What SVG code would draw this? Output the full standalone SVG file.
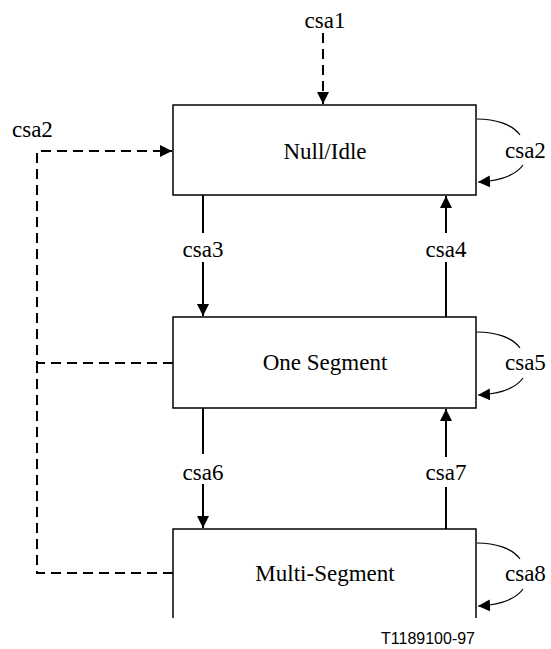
<svg xmlns="http://www.w3.org/2000/svg" width="551" height="649" viewBox="0 0 551 649">
<style>
.box{fill:#fff;stroke:#000;stroke-width:1.5}
.t{font-family:"Liberation Serif","Times New Roman",serif;font-size:23px;fill:#000;text-anchor:middle}
.l{font-family:"Liberation Serif","Times New Roman",serif;font-size:23px;fill:#000}
.solid{stroke:#000;stroke-width:2;fill:none}
.dash{stroke:#000;stroke-width:2;fill:none;stroke-dasharray:10 6}
.loop{stroke:#000;stroke-width:1.2;fill:none}
.fig{font-family:"Liberation Sans",Arial,sans-serif;font-size:16px;fill:#000;text-anchor:end}
</style>
<defs>
<marker id="ah" markerUnits="userSpaceOnUse" markerWidth="14" markerHeight="12" refX="12" refY="6" orient="auto">
<path d="M0,0 L12,6 L0,12 z" fill="#000"/>
</marker>
</defs>
<g id="node-null-idle">
<rect class="box" x="173" y="105" width="303" height="90"/>
<text class="t" x="325" y="159">Null/Idle</text>
</g>
<g id="node-one-segment">
<rect class="box" x="173" y="317" width="303" height="91"/>
<text class="t" x="325" y="370">One Segment</text>
</g>
<g id="node-multi-segment">
<path class="box" d="M173,618 V529 H476 V618" fill="#fff"/>
<text class="t" x="325" y="581">Multi-Segment</text>
</g>
<g id="connectors">
<line class="dash" x1="323" y1="33" x2="323" y2="104" marker-end="url(#ah)"/>
<text class="t" x="325" y="28">csa1</text>
<path class="dash" d="M173,363 H37 V151 H172" marker-end="url(#ah)"/>
<path class="dash" d="M173,573 H37 V363"/>
<text class="l" x="12" y="137">csa2</text>
<line class="solid" x1="203" y1="195" x2="203" y2="233"/>
<line class="solid" x1="203" y1="262" x2="203" y2="316" marker-end="url(#ah)"/>
<text class="t" x="203" y="257">csa3</text>
<line class="solid" x1="446" y1="317" x2="446" y2="262"/>
<line class="solid" x1="446" y1="233" x2="446" y2="196" marker-end="url(#ah)"/>
<text class="t" x="446" y="257">csa4</text>
<line class="solid" x1="203" y1="408" x2="203" y2="454"/>
<line class="solid" x1="203" y1="484" x2="203" y2="528" marker-end="url(#ah)"/>
<text class="t" x="203" y="480">csa6</text>
<line class="solid" x1="446" y1="529" x2="446" y2="487"/>
<line class="solid" x1="446" y1="457" x2="446" y2="409" marker-end="url(#ah)"/>
<text class="t" x="446" y="480">csa7</text>
<path class="loop" d="M477,119 C495,119 512,124 520,135"/>
<path class="loop" d="M523,165 C515,176 500,181 478,182" marker-end="url(#ah)"/>
<text class="l" x="505" y="158">csa2</text>
<path class="loop" d="M477,332 C495,332 512,337 520,348"/>
<path class="loop" d="M523,378 C515,389 500,394 478,395" marker-end="url(#ah)"/>
<text class="l" x="505" y="370">csa5</text>
<path class="loop" d="M477,543 C495,543 512,548 520,559"/>
<path class="loop" d="M523,589 C515,600 500,605 478,606" marker-end="url(#ah)"/>
<text class="l" x="505" y="581">csa8</text>
</g>
<text class="fig" x="475" y="644">T1189100-97</text>
</svg>
